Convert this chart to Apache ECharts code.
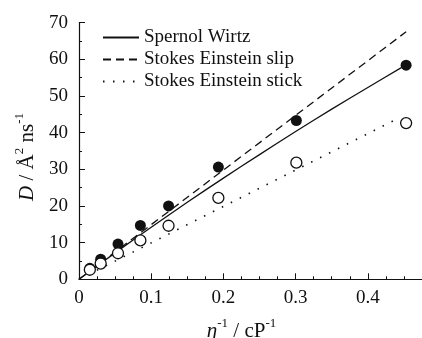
<!DOCTYPE html>
<html>
<head>
<meta charset="utf-8">
<script src="https://cdn.jsdelivr.net/npm/echarts@6/dist/echarts.min.js"></script>
<style>
html,body{margin:0;padding:0;background:#fff;}
#c{width:422px;height:338px;}
</style>
</head>
<body>
<div id="c"></div>
<script>
// Measured data
var xPts = [0.015, 0.030, 0.054, 0.085, 0.124, 0.193, 0.301, 0.453];
var dFilled = [3.0, 5.5, 9.6, 14.7, 20.0, 30.6, 43.3, 58.4];
var dOpen = [2.6, 4.3, 7.1, 10.6, 14.6, 22.2, 31.8, 42.6];

var swX = [0, 0.05, 0.1, 0.15, 0.2, 0.25, 0.3, 0.35, 0.4, 0.447];
var swY = [0, 7.2, 14.2, 21.0, 27.6, 34.0, 40.3, 46.4, 52.3, 57.8];
var slipX = [0, 0.453];
var slipY = [0, 67.5];
var stickX = [0, 0.44];
var stickY = [0, 43.7];

var xTickLabels = ['0', '0.1', '0.2', '0.3', '0.4'];
var seriesNames = ['Spernol Wirtz', 'Stokes Einstein slip', 'Stokes Einstein stick'];

function zip(a, b) { return a.map(function (v, i) { return [v, b[i]]; }); }

var FONT = 'Liberation Serif';
var FS = 19;
var NFS = 21;
var chart = echarts.init(document.getElementById('c'), null, {renderer: 'canvas'});
var supStyle = {fontFamily: FONT, fontSize: 13, verticalAlign: 'top', lineHeight: 25, color: '#111'};
var nStyle = {fontFamily: FONT, fontSize: NFS, lineHeight: 25, color: '#111', verticalAlign: 'bottom'};
var iStyle = {fontFamily: FONT, fontSize: NFS, lineHeight: 25, fontStyle: 'italic', color: '#111', verticalAlign: 'bottom'};

var commonX = {
  type: 'value', min: 0, max: 0.475,
  axisLine: {show: true, lineStyle: {color: '#111', width: 1.2}},
  splitLine: {show: false}
};

chart.setOption({
  animation: false,
  backgroundColor: '#fff',
  grid: {left: 79, right: 0, top: 22.6, bottom: 58.7, containLabel: false, outerBoundsMode: 'none'},
  legend: {
    show: true,
    orient: 'vertical', left: 97, top: 23, itemWidth: 36, itemHeight: 14, itemGap: 3,
    data: seriesNames,
    itemStyle: {opacity: 0},
    textStyle: {fontFamily: FONT, fontSize: FS, color: '#111'}
  },
  xAxis: [
    Object.assign({}, commonX, {
      interval: 0.025,
      axisTick: {show: true, inside: true, length: 3, lineStyle: {color: '#111', width: 1}},
      axisLabel: {show: false}
    }),
    Object.assign({}, commonX, {
      interval: 0.1,
      position: 'bottom',
      axisLine: {show: false},
      axisTick: {show: true, inside: true, length: 6, lineStyle: {color: '#111', width: 1}},
      axisLabel: {
        show: true, margin: 9, showMaxLabel: false,
        fontFamily: FONT, fontSize: FS, color: '#111',
        formatter: function (v) { var i = Math.round(v * 10); return xTickLabels[i] !== undefined && Math.abs(v * 10 - i) < 1e-6 ? xTickLabels[i] : ''; }
      },
      name: '{i|η}{sup|-1}{n| / cP}{sup|-1}',
      nameLocation: 'middle', nameGap: 38,
      nameTextStyle: {padding: [0, 18, 0, 0], rich: {i: iStyle, n: nStyle, sup: supStyle}}
    })
  ],
  yAxis: {
    type: 'value', min: 0, max: 70, interval: 10,
    axisLine: {show: true, lineStyle: {color: '#111', width: 1.2}},
    axisTick: {show: true, inside: true, length: 6, lineStyle: {color: '#111', width: 1}},
    minorTick: {show: true, splitNumber: 2, length: 3, lineStyle: {color: '#111', width: 1}},
    splitLine: {show: false},
    axisLabel: {margin: 11, fontFamily: FONT, fontSize: FS, color: '#111'},
    name: '{i|D}{n| / Å}{sup|2}{n| ns}{sup|-1}',
    nameLocation: 'middle', nameGap: 40, nameRotate: 90,
    nameTextStyle: {padding: [0, 12, 0, 0], rich: {i: iStyle, n: nStyle, sup: supStyle}}
  },
  series: [
    {name: seriesNames[0], type: 'line', data: zip(swX, swY), smooth: 0.3, showSymbol: false, symbol: 'none',
     lineStyle: {color: '#111', width: 1.3, type: 'solid'}, itemStyle: {color: '#111'}, z: 2},
    {name: seriesNames[1], type: 'line', data: zip(slipX, slipY), showSymbol: false, symbol: 'none',
     lineStyle: {color: '#111', width: 1.3, type: [8, 5]}, itemStyle: {color: '#111'}, z: 2},
    {name: seriesNames[2], type: 'line', data: zip(stickX, stickY), showSymbol: false, symbol: 'none',
     lineStyle: {color: '#111', width: 1.6, type: [1.5, 8.5]}, itemStyle: {color: '#111'}, z: 2},
    {name: 'filled', type: 'scatter', data: zip(xPts, dFilled), symbol: 'circle', symbolSize: 11,
     itemStyle: {color: '#111', borderWidth: 0, opacity: 1}, z: 3},
    {name: 'open', type: 'scatter', data: zip(xPts, dOpen), symbol: 'circle', symbolSize: 11,
     itemStyle: {color: '#fff', borderColor: '#111', borderWidth: 1.3, opacity: 1}, z: 4}
  ]
});
</script>
</body>
</html>
